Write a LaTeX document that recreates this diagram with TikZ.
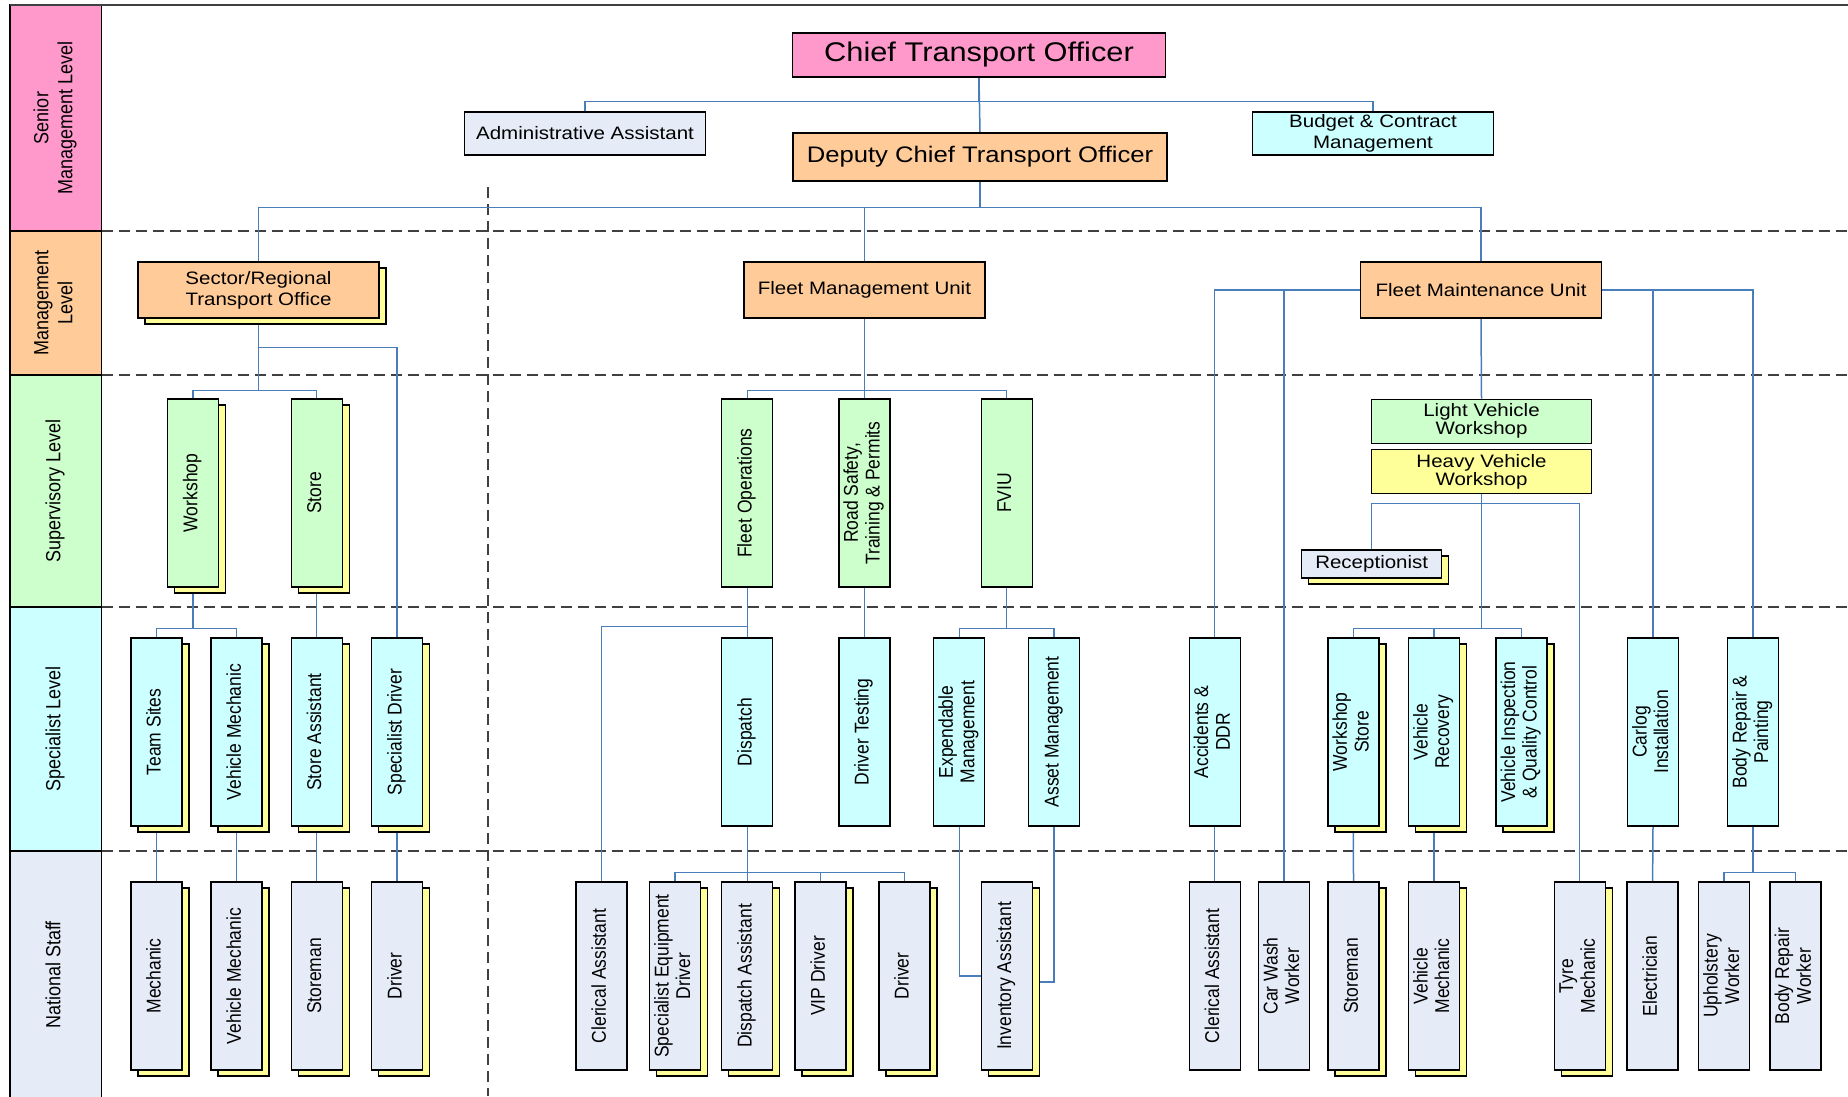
\documentclass[tikz,border=0pt]{standalone}
\usepackage{fontspec}
\usepackage{graphicx}
\setmainfont{Liberation Sans}
\newfontfamily\widesans{Liberation Sans}[FakeStretch=1.14]
\usetikzlibrary{shadows}

\definecolor{seniorpink}{HTML}{FF99CC}
\definecolor{mgmtorange}{HTML}{FFCC99}
\definecolor{supgreen}{HTML}{CCFFCC}
\definecolor{speccyan}{HTML}{CCFFFF}
\definecolor{staffgrey}{HTML}{E6ECF7}
\definecolor{paleyellow}{HTML}{FFFF99}
\definecolor{linkblue}{HTML}{4A7EBB}
\definecolor{rulegrey}{HTML}{404040}

\pgfdeclarelayer{lanes}
\pgfdeclarelayer{links}
\pgfsetlayers{lanes,links,main}

% upright caption for the tall boxes
\newcommand{\vtxt}[1]{\rotatebox{90}{\scalebox{1}[1.14]{\begin{tabular}{@{}c@{}}#1\end{tabular}}}}

\begin{document}
\begin{tikzpicture}[x=1pt,y=-1pt,
		unitbox/.style={draw=black, line width=1.3pt, inner sep=0pt, align=center,
			font=\widesans\fontsize{18}{21}\selectfont},
		rolebox/.style={draw=black, line width=1.3pt, inner sep=0pt,
			minimum width=51pt, minimum height=188pt, font=\fontsize{17.5}{19}\selectfont},
		stacked/.style={general shadow={shadow xshift=7pt, shadow yshift=-6pt,
			fill=paleyellow, draw=black, line width=1.3pt}},
		link/.style={draw=linkblue, line width=1.5pt},
		levelline/.style={draw=rulegrey, line width=1.4pt, dash pattern=on 11pt off 6pt}]
	\useasboundingbox (0,0) rectangle (1848,1096);

	\begin{pgfonlayer}{lanes}
		% Level bands
		\draw[fill=seniorpink, line width=1.3pt] (10,5) rectangle (101.5,231);
		\draw[fill=mgmtorange, line width=1.3pt] (10,231) rectangle (101.5,375);
		\draw[fill=supgreen, line width=1.3pt] (10,375) rectangle (101.5,607);
		\draw[fill=speccyan, line width=1.3pt] (10,607) rectangle (101.5,851);
		\draw[fill=staffgrey, line width=1.3pt] (10,851) rectangle (101.5,1100);
		% Frame and level rules
		\draw[rulegrey, line width=1.5pt] (10,5) -- (1848,5);
		\draw[levelline] (101.5,231) -- (1848,231);
		\draw[levelline] (101.5,375) -- (1848,375);
		\draw[levelline] (101.5,607) -- (1848,607);
		\draw[levelline] (101.5,851) -- (1848,851);
		\draw[levelline] (488,187) -- (488,1096);
	\end{pgfonlayer}

	% Level names
	\node[font=\fontsize{18}{21}\selectfont] (lvlsenior) at (55.5,118) {\vtxt{Senior\\Management Level}};
	\node[font=\fontsize{18}{21}\selectfont] (lvlmgmt) at (55.5,303) {\vtxt{Management\\Level}};
	\node[font=\fontsize{18}{21}\selectfont] (lvlsup) at (55.5,491) {\vtxt{Supervisory Level}};
	\node[font=\fontsize{18}{21}\selectfont] (lvlspec) at (55.5,729) {\vtxt{Specialist Level}};
	\node[font=\fontsize{18}{21}\selectfont] (lvlstaff) at (55.5,975) {\vtxt{National Staff}};

	% Senior management
	\node[unitbox, fill=seniorpink, minimum width=373pt, minimum height=44pt,
		font=\widesans\fontsize{27}{30}\selectfont] (cto) at (979,55) {Chief Transport Officer};
	\node[unitbox, fill=staffgrey, minimum width=241pt, minimum height=43pt] (admin) at (585,133.5) {Administrative Assistant};
	\node[unitbox, fill=speccyan, minimum width=241pt, minimum height=43pt] (budget) at (1373,133.5) {Budget \& Contract\\Management};
	\node[unitbox, fill=mgmtorange, minimum width=374pt, minimum height=48pt,
		font=\widesans\fontsize{22.5}{25}\selectfont] (dcto) at (980,157) {Deputy Chief Transport Officer};

	% Management
	\node[unitbox, stacked, fill=mgmtorange, minimum width=241pt, minimum height=56pt] (sector) at (258.5,290) {Sector/Regional\\Transport Office};
	\node[unitbox, fill=mgmtorange, minimum width=241pt, minimum height=56pt] (fmu) at (864.4,290) {Fleet Management Unit};
	\node[unitbox, fill=mgmtorange, minimum width=241pt, minimum height=56pt] (fmaint) at (1481,290) {Fleet Maintenance Unit};

	% Supervisory
	\node[rolebox, stacked, fill=supgreen] (workshop) at (193,493) {\vtxt{Workshop}};
	\node[rolebox, stacked, fill=supgreen] (store) at (316.7,493) {\vtxt{Store}};
	\node[rolebox, fill=supgreen] (fleetops) at (747.3,493) {\vtxt{Fleet Operations}};
	\node[rolebox, fill=supgreen] (roadsafety) at (864.4,493) {\vtxt{Road Safety,\\Training \& Permits}};
	\node[rolebox, fill=supgreen] (fviu) at (1006.7,493) {\vtxt{FVIU}};
	\node[unitbox, fill=supgreen, minimum width=219.5pt, minimum height=44pt,
		font=\widesans\fontsize{18}{18}\selectfont] (lvw) at (1481.5,421.3) {Light Vehicle\\Workshop};
	\node[unitbox, fill=paleyellow, minimum width=219.5pt, minimum height=44pt,
		font=\widesans\fontsize{18}{18}\selectfont] (hvw) at (1481.5,471.5) {Heavy Vehicle\\Workshop};
	\node[unitbox, stacked, fill=staffgrey, minimum width=140pt, minimum height=28pt] (recep) at (1371.7,564) {Receptionist};

	% Specialist
	\node[rolebox, stacked, fill=speccyan] (teamsites) at (156.4,732) {\vtxt{Team Sites}};
	\node[rolebox, stacked, fill=speccyan] (vehmech) at (236.5,732) {\vtxt{Vehicle Mechanic}};
	\node[rolebox, stacked, fill=speccyan] (storeasst) at (316.7,732) {\vtxt{Store  Assistant}};
	\node[rolebox, stacked, fill=speccyan] (specdriver) at (397.2,732) {\vtxt{Specialist Driver}};
	\node[rolebox, fill=speccyan] (dispatch) at (747.3,732) {\vtxt{Dispatch}};
	\node[rolebox, fill=speccyan] (drivertest) at (864.4,732) {\vtxt{Driver Testing}};
	\node[rolebox, fill=speccyan] (expend) at (959.3,732) {\vtxt{Expendable\\Management}};
	\node[rolebox, fill=speccyan] (asset) at (1054.2,732) {\vtxt{Asset Management}};
	\node[rolebox, fill=speccyan] (accidents) at (1214.7,732) {\vtxt{Accidents \&\\DDR}};
	\node[rolebox, stacked, fill=speccyan] (wsstore) at (1353.4,732) {\vtxt{Workshop\\Store}};
	\node[rolebox, stacked, fill=speccyan] (vehrecov) at (1434,732) {\vtxt{Vehicle\\Recovery}};
	\node[rolebox, stacked, fill=speccyan] (vehinsp) at (1521.5,732) {\vtxt{Vehicle Inspection\\\& Quality Control}};
	\node[rolebox, fill=speccyan] (carlog) at (1653,732) {\vtxt{Carlog\\Installation}};
	\node[rolebox, fill=speccyan] (bodyrepair) at (1753,732) {\vtxt{Body Repair \&\\Painting}};

	% National staff
	\node[rolebox, stacked, fill=staffgrey] (mechanic) at (156.4,976) {\vtxt{Mechanic}};
	\node[rolebox, stacked, fill=staffgrey] (wsmechanic) at (236.5,976) {\vtxt{Vehicle Mechanic}};
	\node[rolebox, stacked, fill=staffgrey] (storeman) at (316.7,976) {\vtxt{Storeman}};
	\node[rolebox, stacked, fill=staffgrey] (driver) at (397.2,976) {\vtxt{Driver}};
	\node[rolebox, fill=staffgrey] (clerical) at (601.5,976) {\vtxt{Clerical Assistant}};
	\node[rolebox, stacked, fill=staffgrey] (specequip) at (675,976) {\vtxt{Specialist Equipment\\Driver}};
	\node[rolebox, stacked, fill=staffgrey] (dispasst) at (747.3,976) {\vtxt{Dispatch  Assistant}};
	\node[rolebox, stacked, fill=staffgrey] (vipdriver) at (820.6,976) {\vtxt{VIP Driver}};
	\node[rolebox, stacked, fill=staffgrey] (pooldriver) at (904.4,976) {\vtxt{Driver}};
	\node[rolebox, stacked, fill=staffgrey] (inventory) at (1006.7,976) {\vtxt{Inventory Assistant}};
	\node[rolebox, fill=staffgrey] (clericalfm) at (1214.7,976) {\vtxt{Clerical Assistant}};
	\node[rolebox, fill=staffgrey] (carwash) at (1284,976) {\vtxt{Car Wash\\Worker}};
	\node[rolebox, stacked, fill=staffgrey] (storemanfm) at (1353.5,976) {\vtxt{Storeman}};
	\node[rolebox, stacked, fill=staffgrey] (mechanicfm) at (1434,976) {\vtxt{Vehicle\\Mechanic}};
	\node[rolebox, stacked, fill=staffgrey] (tyre) at (1579.7,976) {\vtxt{Tyre\\Mechanic}};
	\node[rolebox, fill=staffgrey] (electrician) at (1652.6,976) {\vtxt{Electrician}};
	\node[rolebox, fill=staffgrey] (upholstery) at (1724,976) {\vtxt{Upholstery\\Worker}};
	\node[rolebox, fill=staffgrey] (bodyworker) at (1795.6,976) {\vtxt{Body Repair\\Worker}};

	\begin{pgfonlayer}{links}
		% Senior links
		\draw[link] (cto.south) -- (dcto.north);
		\draw[link] (cto.south) -- ++(0,24) -| (admin.north);
		\draw[link] (cto.south) -- ++(0,24) -| (budget.north);
		\draw[link] (dcto.south) -- ++(0,26) -| (sector.north);
		\draw[link] (dcto.south) -- ++(0,26) -| (fmu.north);
		\draw[link] (dcto.south) -- ++(0,26) -| (fmaint.north);
		% Sector office
		\draw[link] (sector.south) -- ++(0,29) -| (specdriver.north);
		\draw[link] (sector.south) -- ++(0,72) -| (workshop.north);
		\draw[link] (sector.south) -- ++(0,72) -| (store.north);
		\draw[link] (workshop.south) -- ++(0,41) -| (teamsites.north);
		\draw[link] (workshop.south) -- ++(0,41) -| (vehmech.north);
		\draw[link] (store.south) -- (storeasst.north);
		\draw[link] (teamsites.south) -- (mechanic.north);
		\draw[link] (vehmech.south) -- (wsmechanic.north);
		\draw[link] (storeasst.south) -- (storeman.north);
		\draw[link] (specdriver.south) -- (driver.north);
		% Fleet management
		\draw[link] (fmu.south) -- ++(0,72) -| (fleetops.north);
		\draw[link] (fmu.south) -- ++(0,72) -| (fviu.north);
		\draw[link] (fmu.south) -- (roadsafety.north);
		\draw[link] (fleetops.south) -- (dispatch.north);
		\draw[link] (fleetops.south) -- ++(0,39) -| (clerical.north);
		\draw[link] (roadsafety.south) -- (drivertest.north);
		\draw[link] (fviu.south) -- ++(0,41) -| (expend.north);
		\draw[link] (fviu.south) -- ++(0,41) -| (asset.north);
		\draw[link] (dispatch.south) -- ++(0,46) -| (specequip.north);
		\draw[link] (dispatch.south) -- (dispasst.north);
		\draw[link] (dispatch.south) -- ++(0,46) -| (vipdriver.north);
		\draw[link] (dispatch.south) -- ++(0,46) -| (pooldriver.north);
		\draw[link] (expend.south) |- (inventory.west);
		\draw[link] (asset.south) |- ([shift={(7,6)}]inventory.east);
		% Fleet maintenance
		\draw[link] (fmaint.west) -| (accidents.north);
		\draw[link] (fmaint.west) -| (carwash.north);
		\draw[link] (fmaint.east) -| (carlog.north);
		\draw[link] (fmaint.east) -| (bodyrepair.north);
		\draw[link] (fmaint.south) -- (lvw.north);
		\draw[link] (hvw.south) -- ++(0,9.5) -| (recep.north);
		\draw[link] (hvw.south) -- ++(0,9.5) -| (tyre.north);
		\draw[link] (hvw.south) -- ++(0,134.5) -| (wsstore.north);
		\draw[link] (hvw.south) -- ++(0,134.5) -| (vehrecov.north);
		\draw[link] (hvw.south) -- ++(0,134.5) -| (vehinsp.north);
		\draw[link] (accidents.south) -- (clericalfm.north);
		\draw[link] (wsstore.south) -- (storemanfm.north);
		\draw[link] (vehrecov.south) -- (mechanicfm.north);
		\draw[link] (carlog.south) -- (electrician.north);
		\draw[link] (bodyrepair.south) -- ++(0,46) -| (upholstery.north);
		\draw[link] (bodyrepair.south) -- ++(0,46) -| (bodyworker.north);
	\end{pgfonlayer}
\end{tikzpicture}
\end{document}
